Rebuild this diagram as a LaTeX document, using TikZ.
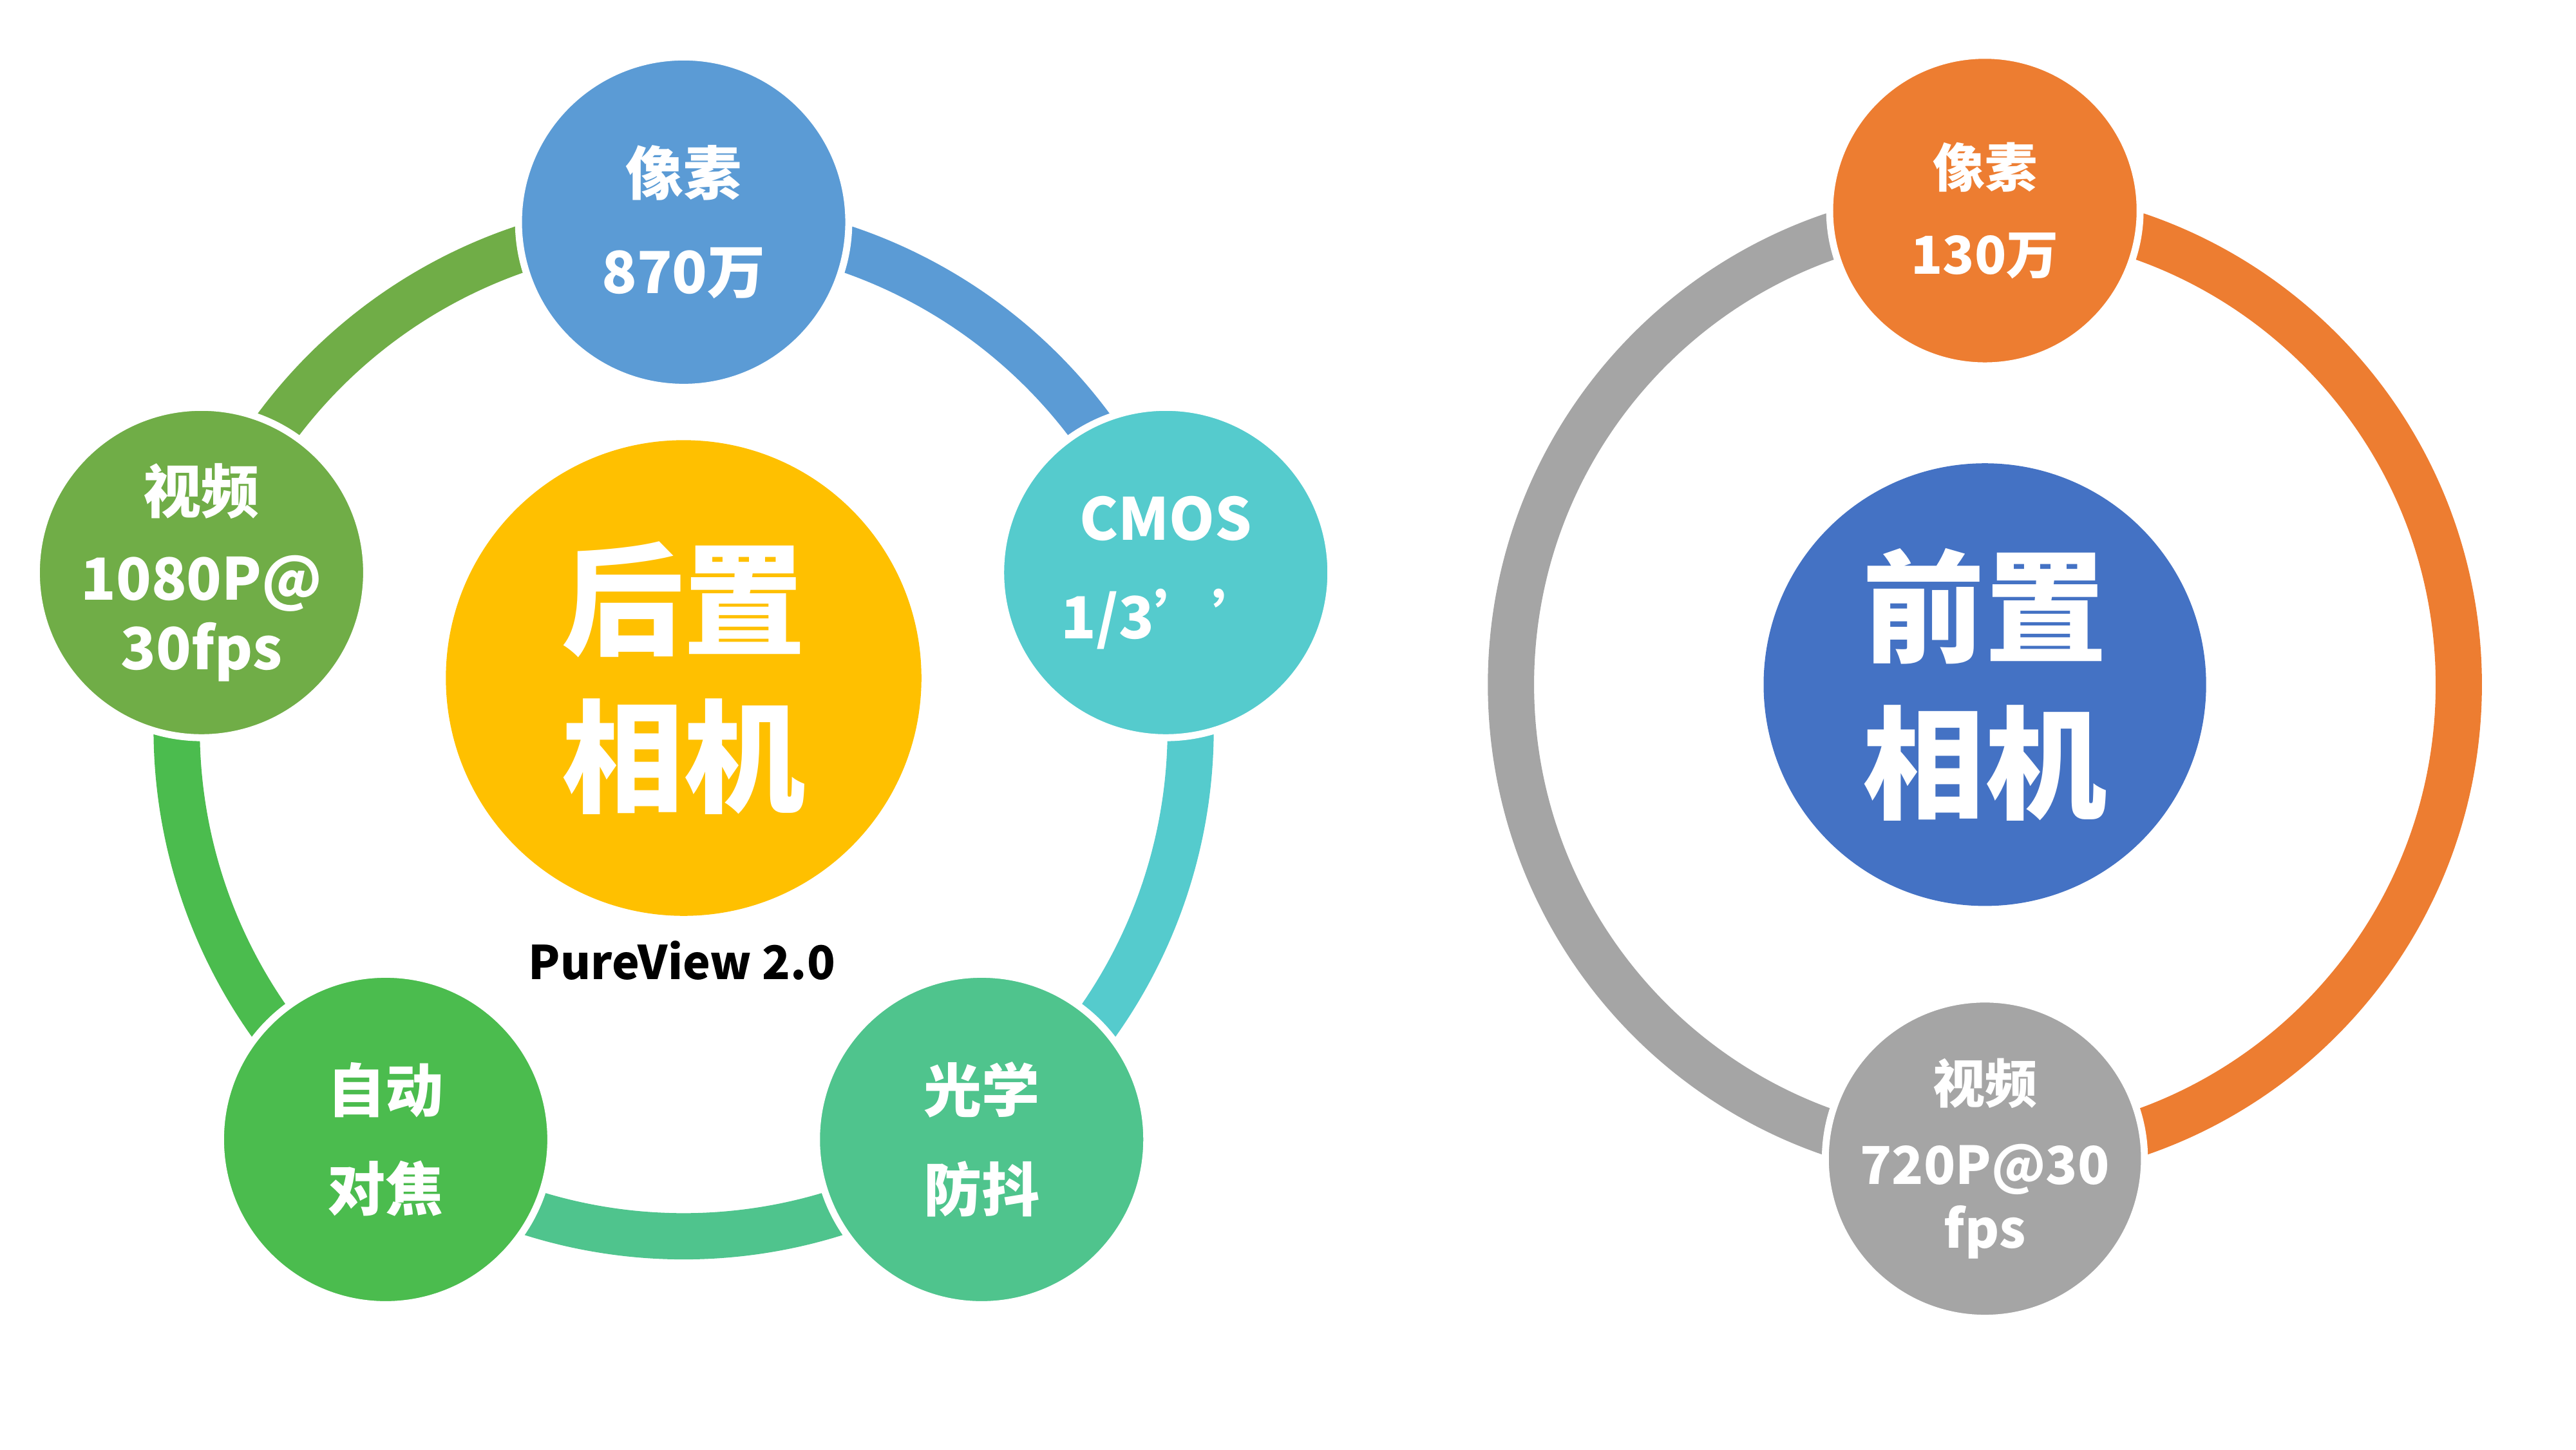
\documentclass[tikz,border=0pt]{standalone}
\usepackage{fontspec}
\setmainfont{Noto Sans CJK SC}
\usetikzlibrary{positioning,calc}
\definecolor{cblue}{HTML}{5B9BD5}
\definecolor{cteal}{HTML}{55CBCD}
\definecolor{cmint}{HTML}{4FC48D}
\definecolor{cgreen}{HTML}{4BBC4E}
\definecolor{colive}{HTML}{70AD47}
\definecolor{cyellow}{HTML}{FFC000}
\definecolor{corange}{HTML}{ED7D31}
\definecolor{cgray}{HTML}{A5A5A5}
\definecolor{cnavy}{HTML}{4472C4}
\tikzset{
  spoke/.style={circle, draw=white, line width=1.2pt, minimum size=2cm, inner sep=0pt,
    text=white, align=center, font=\fontsize{10}{17}\selectfont\bfseries},
  hub/.style={circle, minimum size=2.88cm, inner sep=0pt, text=white, align=center,
    font=\fontsize{21}{27}\selectfont\bfseries},
  ring/.style={line width=0.28cm}
}
\begin{document}
\begin{tikzpicture}
        \useasboundingbox (0,0) rectangle (15.6,8.775);
        % Rear camera ring
        \coordinate (rc) at (4.14,4.36);
        \draw[ring, cblue] (rc) ++(90:3.07) arc[start angle=90, end angle=18, radius=3.07];
        \draw[ring, cteal] (rc) ++(18:3.07) arc[start angle=18, end angle=-54, radius=3.07];
        \draw[ring, cmint] (rc) ++(-54:3.07) arc[start angle=-54, end angle=-126, radius=3.07];
        \draw[ring, cgreen] (rc) ++(-126:3.07) arc[start angle=-126, end angle=-198, radius=3.07];
        \draw[ring, colive] (rc) ++(162:3.07) arc[start angle=162, end angle=90, radius=3.07];

        % Rear camera nodes
        \node[hub, fill=cyellow] (rear) at (4.14,4.67) {后置\\相机};
        \node[font=\fontsize{8}{10}\selectfont\bfseries] (pure) at (4.13,2.96) {PureView 2.0};
        \node[spoke, fill=cblue] (pix) at ($(rc)+(90:3.07)$) {像素\\870万};
        \node[spoke, fill=cteal] (cmos) at ($(rc)+(18:3.07)$) {CMOS\\1/3’’};
        \node[spoke, fill=cmint] (ois) at ($(rc)+(-54:3.07)$) {光学\\防抖};
        \node[spoke, fill=cgreen] (af) at ($(rc)+(-126:3.07)$) {自动\\对焦};
        \node[spoke, fill=colive, font=\fontsize{10}{12}\selectfont\bfseries] (vid) at ($(rc)+(162:3.07)$) {视频\\[3pt]1080P@\\30fps};

        % Front camera ring
        \coordinate (fc) at (12.02,4.63);
        \draw[ring, corange] (fc) ++(90:2.87) arc[start angle=90, end angle=-90, radius=2.87];
        \draw[ring, cgray] (fc) ++(90:2.87) arc[start angle=90, end angle=270, radius=2.87];

        % Front camera nodes
        \node[hub, fill=cnavy, minimum size=2.68cm] (front) at (fc) {前置\\相机};
        \node[spoke, fill=corange, minimum size=1.88cm, font=\fontsize{9}{15}\selectfont\bfseries] (fpix) at ($(fc)+(90:2.87)$) {像素\\130万};
        \node[spoke, fill=cgray, minimum size=1.88cm, font=\fontsize{9}{11}\selectfont\bfseries] (fvid) at ($(fc)+(-90:2.87)$) {视频\\[3pt]720P@30\\fps};
\end{tikzpicture}
\end{document}
